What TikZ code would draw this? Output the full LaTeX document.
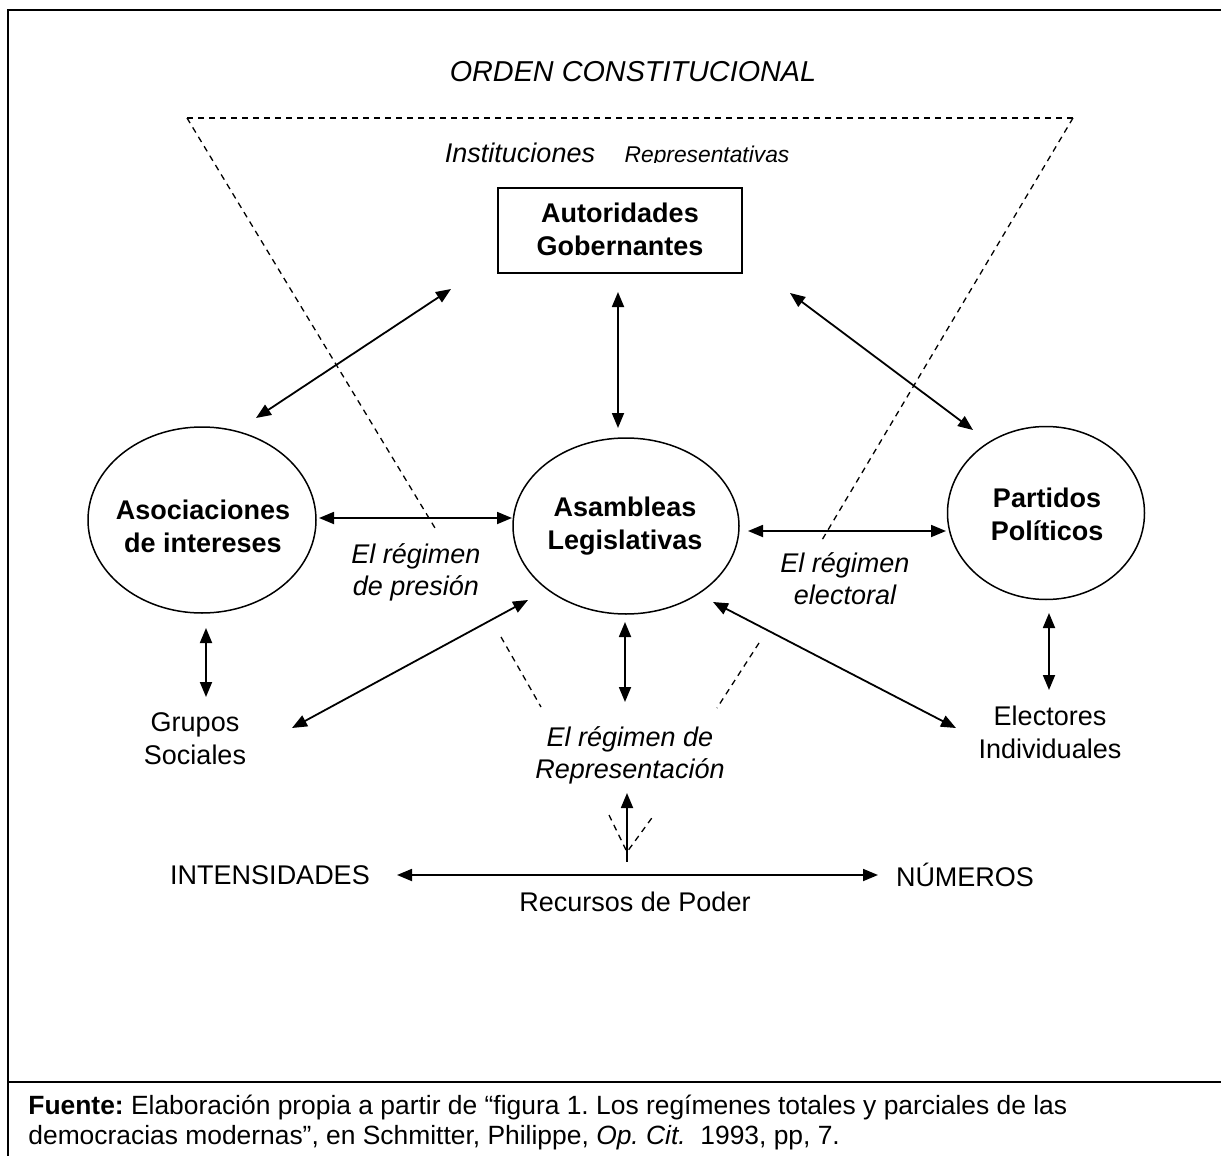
\documentclass[tikz,border=0pt]{standalone}
\usepackage{fontspec}
\setmainfont{Liberation Sans}
\frenchspacing
\usetikzlibrary{arrows.meta,shapes.geometric}

\tikzset{
  txt/.style={inner sep=0pt, align=center, font=\fontsize{13.5}{16.5}\selectfont},
  boldtxt/.style={txt, font=\bfseries\fontsize{13.5}{16.5}\selectfont},
  ittxt/.style={txt, font=\itshape\fontsize{13.5}{16}\selectfont},
  oval/.style={ellipse, draw, line width=0.75pt, inner sep=0pt},
  govbox/.style={draw, line width=0.85pt, minimum width=122pt, minimum height=42.5pt, inner sep=0pt},
  limit/.style={dashed, dash pattern=on 3pt off 2.5pt, line width=0.65pt},
  link/.style={{Triangle[length=7.5pt,width=6pt]}-{Triangle[length=7.5pt,width=6pt]}, line width=0.9pt},
}

\begin{document}
\begin{tikzpicture}[x=0.5pt,y=-0.5pt]
\useasboundingbox (0,0) rectangle (1221,1156);
% frame
\draw[line width=1pt] (8,1156) -- (8,10) -- (1221,10);
\draw[line width=1.3pt] (8,1082) -- (1221,1082);
% orden constitucional
\node[txt, font=\itshape\fontsize{14.4}{17}\selectfont] (orden) at (633,72) {ORDEN CONSTITUCIONAL};
\draw[limit] (187,118) -- (1073,118);
\draw[limit] (187,118) -- (435,528);
\draw[limit] (1073,118) -- (822,540);
\draw[limit] (501,637) -- (541,707);
\draw[limit] (759,643) -- (717,708);
\draw[limit] (609,815) -- (627,852) -- (654,815);
\node[ittxt] (inst) at (520,153) {Instituciones};
\begin{scope}
\clip (600,130) rectangle (820,163);
\node[txt, font=\itshape\fontsize{11.4}{13}\selectfont] (reptv) at (707,157) {Representativas};
\end{scope}
% nodes
\node[govbox] (auto) at (620,230.5) {};
\node[boldtxt] (auto-t) at (620,229.5) {Autoridades\\Gobernantes};
\node[oval, minimum width=114pt, minimum height=93pt] (asoc) at (202,520) {};
\node[boldtxt] (asoc-t) at (203,526) {Asociaciones\\de intereses};
\node[oval, minimum width=113pt, minimum height=88pt] (asam) at (626,526) {};
\node[boldtxt] (asam-t) at (625,526.5) {Asambleas\\Legislativas};
\node[oval, minimum width=98.5pt, minimum height=86.5pt] (part) at (1046,513) {};
\node[boldtxt] (part-t) at (1047,514) {Partidos\\Políticos};
\node[ittxt] (presion) at (416,572) {El régimen\\de presión};
\node[ittxt] (electoral) at (845,579) {El régimen\\electoral};
\node[txt] (grupos) at (195,739) {Grupos\\Sociales};
\node[ittxt] (regrep) at (630,755.5) {El régimen de\\Representación};
\node[txt] (electores) at (1050,732.5) {Electores\\Individuales};
\node[txt] (intens) at (270,875) {INTENSIDADES};
\node[txt] (numeros) at (965,875) {NÚMEROS};
\node[txt] (recursos) at (635,902) {Recursos de Poder};
% arrow ends
\coordinate (asoc-ne) at (256,418); \coordinate (auto-sw) at (451,289);
\coordinate (auto-s) at (618,292); \coordinate (asam-n) at (618,428);
\coordinate (auto-se) at (790,293); \coordinate (part-nw) at (973,430);
\coordinate (asoc-e) at (319,518); \coordinate (asam-w) at (512,518);
\coordinate (asam-e) at (748,531); \coordinate (part-w) at (946,531);
\coordinate (asoc-s) at (206,628); \coordinate (grupos-n) at (206,697);
\coordinate (asam-sw) at (528,600); \coordinate (grupos-ne) at (292,728);
\coordinate (asam-s) at (625,622); \coordinate (regrep-n) at (625,702);
\coordinate (asam-se) at (713,602); \coordinate (electores-nw) at (956,728);
\coordinate (part-s) at (1049,613); \coordinate (electores-n) at (1049,690);
\coordinate (recursos-n) at (627,862); \coordinate (regrep-s) at (627,793);
\coordinate (intens-e) at (397,875); \coordinate (numeros-w) at (878,875);
% connectors
\draw[link] (asoc-ne) -- (auto-sw);
\draw[link] (auto-s) -- (asam-n);
\draw[link] (auto-se) -- (part-nw);
\draw[link] (asoc-e) -- (asam-w);
\draw[link] (asam-e) -- (part-w);
\draw[link] (asoc-s) -- (grupos-n);
\draw[link] (asam-sw) -- (grupos-ne);
\draw[link] (asam-s) -- (regrep-n);
\draw[link] (asam-se) -- (electores-nw);
\draw[link] (part-s) -- (electores-n);
\draw[link, {Triangle[length=7.5pt,width=6pt]}-] (regrep-s) -- (recursos-n);
\draw[link] (intens-e) -- (numeros-w);
% fuente
\node[txt, align=left, anchor=west, font=\fontsize{13.2}{15}\selectfont] (fuente) at (28,1123)
  {\textbf{Fuente:} Elaboración propia a partir de “figura 1. Los regímenes totales y parciales de las\\
   democracias modernas”, en Schmitter, Philippe, \textit{Op. Cit.}\ \ 1993, pp, 7.};
\end{tikzpicture}
\end{document}
